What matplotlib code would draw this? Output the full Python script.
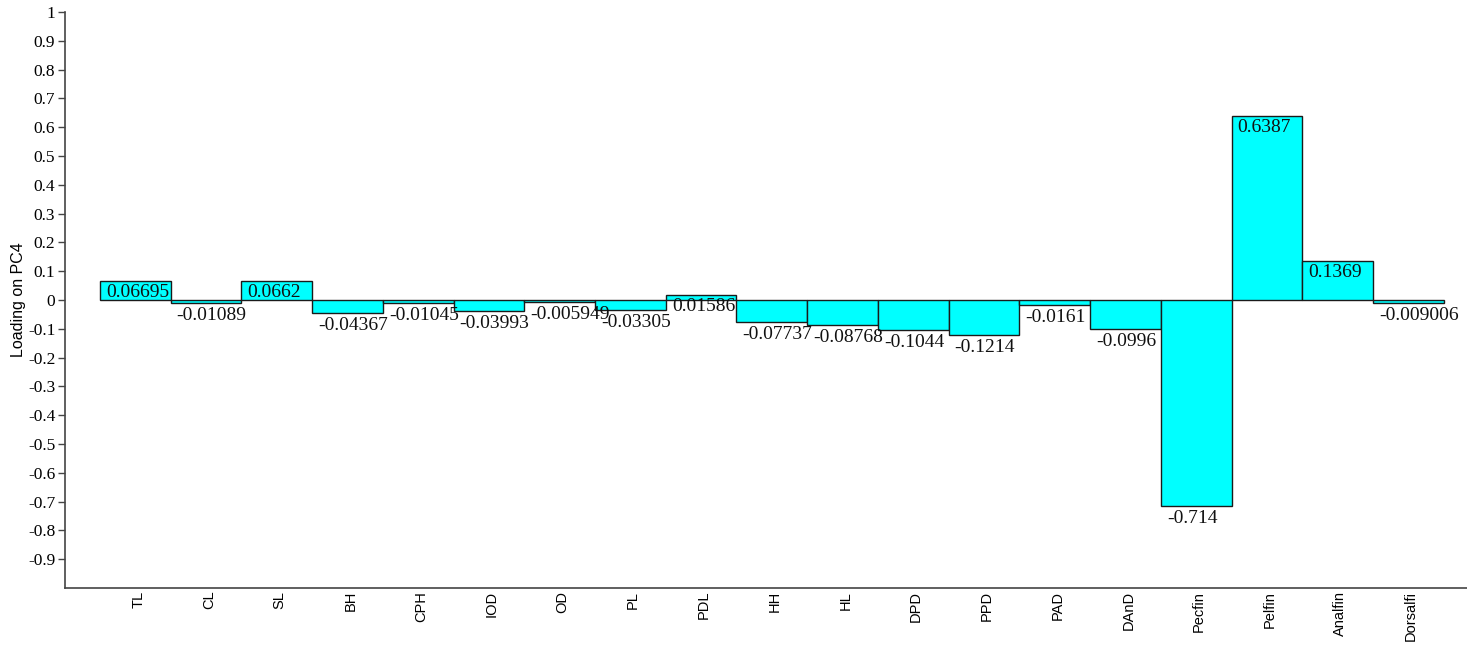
import matplotlib
matplotlib.use("Agg")
import matplotlib.pyplot as plt
import numpy as np
from matplotlib.transforms import ScaledTranslation

categories = ["TL", "CL", "SL", "BH", "CPH", "IOD", "OD", "PL", "PDL", "HH", "HL",
              "DPD", "PPD", "PAD", "DAnD", "Pecfin", "Pelfin", "Analfin", "Dorsalfi"]
values = [0.06695, -0.01089, 0.0662, -0.04367, -0.01045, -0.03993, -0.005949, -0.03305,
          0.01586, -0.07737, -0.08768, -0.1044, -0.1214, -0.0161, -0.0996, -0.714,
          0.6387, 0.1369, -0.009006]
value_labels = ["0.06695", "-0.01089", "0.0662", "-0.04367", "-0.01045", "-0.03993",
                "-0.005949", "-0.03305", "0.01586", "-0.07737", "-0.08768", "-0.1044",
                "-0.1214", "-0.0161", "-0.0996", "-0.714", "0.6387", "0.1369", "-0.009006"]
ytick_values = [round(-0.9 + 0.1 * i, 1) for i in range(20)]
ytick_labels = ["-0.9", "-0.8", "-0.7", "-0.6", "-0.5", "-0.4", "-0.3", "-0.2", "-0.1", "0",
                "0.1", "0.2", "0.3", "0.4", "0.5", "0.6", "0.7", "0.8", "0.9", "1"]

W, H = 1467, 647
fig = plt.figure(figsize=(W / 100, H / 100), dpi=100)
ax = fig.add_axes([65 / W, 1 - 588 / H, 1 - 65 / W, (588 - 12) / H])

x = np.arange(len(categories))
ax.bar(x, values, width=1.0, align="edge", color="#00FFFF", edgecolor="#1a1a1a", linewidth=1.0)

ax.set_xlim(-0.495, 19.33)
ax.set_ylim(-1, 1)

serif = ["Liberation Serif", "DejaVu Serif"]
sans = ["Liberation Sans", "DejaVu Sans"]

for xi, v, lab in zip(x, values, value_labels):
    if v >= 0:
        off = ScaledTranslation(6 / 100, -3 / 100, fig.dpi_scale_trans)
    else:
        off = ScaledTranslation(6 / 100, -4 / 100, fig.dpi_scale_trans)
    ax.text(xi, v, lab, ha="left", va="top", fontsize=14, family=serif,
            color="#111111", transform=ax.transData + off)

ax.set_yticks(ytick_values)
ax.set_yticklabels(ytick_labels, family=serif, fontsize=12.5)
ax.set_xticks(x + 0.5 + 0.04)
ax.set_xticklabels(categories, rotation=90, family=sans, fontsize=10.5, va="top")
ax.tick_params(axis="x", length=0, pad=2)
ax.tick_params(axis="y", length=5, width=1, color="#444444", pad=2)

for s in ["top", "right"]:
    ax.spines[s].set_visible(False)
for s in ["left", "bottom"]:
    ax.spines[s].set_color("#444444")
    ax.spines[s].set_linewidth(1.2)

ax.set_ylabel("Loading on PC4", family=sans, fontsize=11.5)
ax.yaxis.set_label_coords(-0.028, 0.5)

fig.savefig("out.png", dpi=100)
